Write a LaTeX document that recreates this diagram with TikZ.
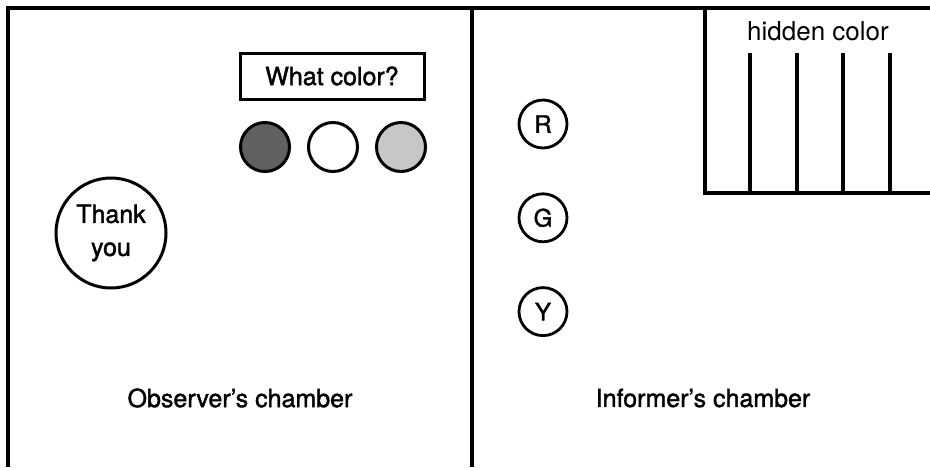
\documentclass[tikz,border=0pt]{standalone}
\usepackage{fontspec}
\setmainfont{TeX Gyre Heros}
\newfontfamily\chfamily{TeX Gyre Heros}[FakeBold=1.6,Ligatures=TeX]
\usetikzlibrary{positioning}
\newcommand\chfont{\chfamily\fontsize{25pt}{33pt}\selectfont}
\tikzset{
  ch wall/.style={line width=3.2pt},
  ch label/.style={font=\chfont, inner sep=0pt},
  ch lamp/.style={
    circle,
    minimum size=49pt,
    inner sep=0pt,
    line width=3pt,
    draw=black,
  },
  ch key/.style={
    circle,
    minimum size=48pt,
    inner sep=0pt,
    line width=2.8pt,
    draw=black,
    font=\chfamily\fontsize{24pt}{26pt}\selectfont,
  },
}

\begin{document}
\begin{tikzpicture}[x=1pt,y=-1pt]
  \useasboundingbox (0,0) rectangle (930,467);

  % walls of the two chambers
  \draw[ch wall] (930,8) -- (8,8) -- (8,467);
  \draw[ch wall] (472,8) -- (472,467);

  % observer side
  \node[draw, line width=3pt, minimum width=184pt, minimum height=46pt,
        ch label] (ask) at (332,76) {What color?};
  \node[ch lamp, fill=black!62] (dark) at (265,147) {};
  \node[ch lamp, right=16pt of dark] (white) {};
  \node[ch lamp, fill=black!22, right=16pt of white] (light) {};
  \node[circle, draw, line width=3pt, minimum size=110pt, align=center,
        ch label] (thanks) at (111,233) {Thank\\you};
  \node[ch label] (obs) at (240,398) {Observer’s chamber};

  % informer side
  \node[ch key] (r) at (543,124) {R};
  \node[ch key, below=43pt of r] (g) {G};
  \node[ch key, below=43pt of g] (y) {Y};
  \node[ch label] (inf) at (703,398) {Informer’s chamber};

  % hidden color box
  \draw[ch wall] (705,8) -- (705,193) -- (930,193);
  \node[ch label, font=\fontsize{26pt}{28pt}\selectfont] (hidden) at (818,31) {hidden color};
  \foreach \x in {750,797,843,890}
    \draw[ch wall] (\x,53) -- (\x,193);
\end{tikzpicture}
\end{document}
